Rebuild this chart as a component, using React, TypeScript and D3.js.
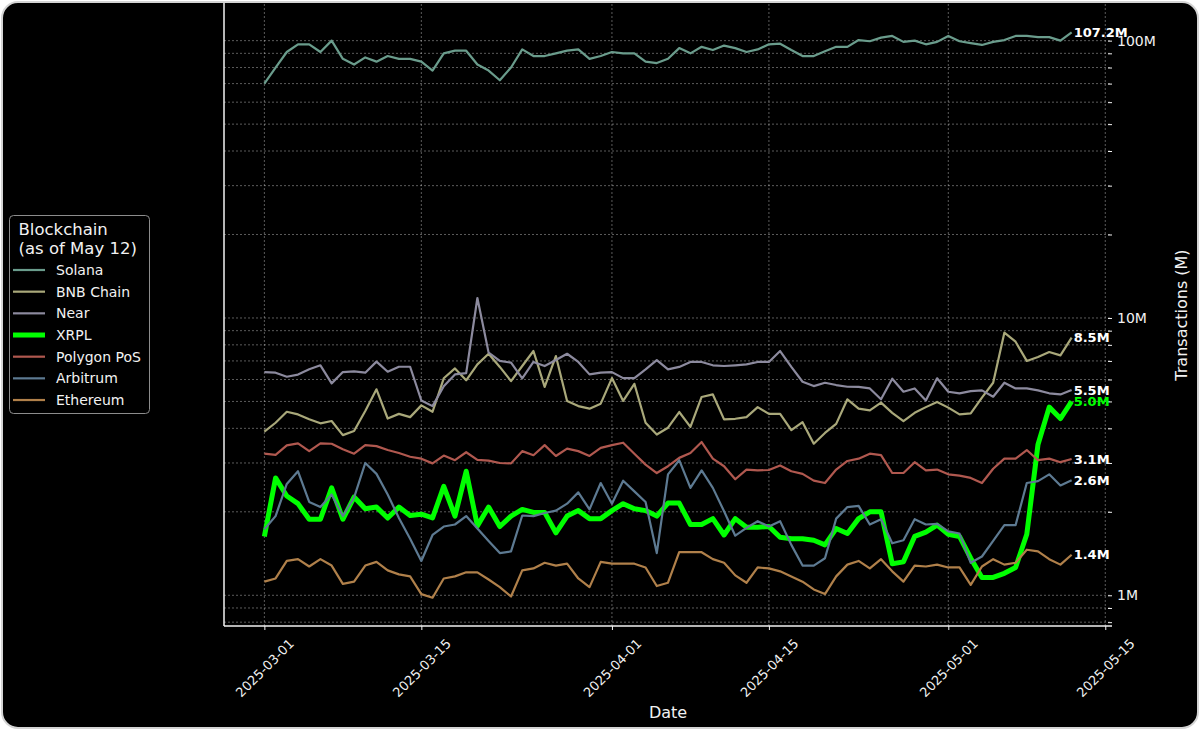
import React, { createRef } from 'react';
import {
  select,
  scaleUtc,
  scaleLog,
  axisBottom,
  axisRight,
  line,
  utcDay,
  utcParse,
  utcFormat,
  extent,
  ScaleTime,
  ScaleLogarithmic,
  Selection,
} from 'd3';

// daily transactions, millions, 2025-03-01 .. 2025-05-12
const START_DATE = '2025-03-01';

const SOLANA_TX = [
  70, 80, 91, 97, 97, 91, 100, 86, 82, 87, 84, 88, 86, 86, 84, 78, 90, 92, 92, 82,
  78, 72, 80, 93, 88, 88, 90, 92, 93, 86, 88, 91, 90, 90, 84, 83, 86, 94, 90, 95,
  92.5, 96, 94, 91, 93, 97, 97.5, 92.5, 88, 88, 91.5, 95, 95, 100.5, 99.5, 102.5, 104, 99, 100, 97,
  99, 104, 99.5, 98, 96.5, 99, 100.5, 104, 104, 103, 103, 100, 107.2,
];
const BNB_TX = [
  3.89, 4.19, 4.59, 4.49, 4.31, 4.17, 4.25, 3.78, 3.91, 4.62, 5.53, 4.34, 4.51, 4.39, 4.84, 4.59, 6.06, 6.58, 5.96, 6.8,
  7.43, 6.66, 5.92, 6.71, 7.6, 5.64, 7.29, 5.02, 4.81, 4.71, 4.91, 6.07, 5.02, 5.79, 4.19, 3.8, 4.02, 4.58, 4.05, 5.19,
  5.3, 4.31, 4.33, 4.39, 4.77, 4.51, 4.51, 3.94, 4.21, 3.52, 3.85, 4.15, 5.09, 4.71, 4.64, 4.95, 4.55, 4.25, 4.55, 4.77,
  4.98, 4.75, 4.49, 4.53, 5.16, 5.84, 8.85, 8.21, 7.0, 7.23, 7.54, 7.33, 8.5,
];
const NEAR_TX = [
  6.38, 6.35, 6.14, 6.25, 6.53, 6.75, 5.81, 6.38, 6.42, 6.35, 6.96, 6.4, 6.67, 6.67, 5.04, 4.81, 5.67, 6.26, 6.33, 11.8,
  7.5, 7.0, 6.9, 6.06, 6.94, 6.71, 7.05, 7.43, 6.94, 6.26, 6.35, 6.38, 6.07, 6.07, 6.53, 7.05, 6.53, 6.66, 6.94, 6.94,
  6.75, 6.71, 6.75, 6.8, 6.94, 6.94, 7.6, 6.66, 5.89, 5.68, 5.84, 5.73, 5.65, 5.64, 5.57, 5.09, 6.04, 5.42, 5.57, 5.04,
  6.06, 5.42, 5.35, 5.45, 5.48, 5.2, 5.84, 5.57, 5.57, 5.48, 5.35, 5.3, 5.5,
];
const XRPL_TX = [
  1.63, 2.65, 2.28, 2.14, 1.88, 1.88, 2.44, 1.88, 2.26, 2.05, 2.08, 1.9, 2.08, 1.94, 1.96, 1.9, 2.47, 1.93, 2.8, 1.78,
  2.08, 1.77, 1.93, 2.04, 1.99, 1.99, 1.68, 1.93, 2.02, 1.89, 1.89, 2.02, 2.14, 2.05, 2.02, 1.93, 2.15, 2.15, 1.8, 1.8,
  1.89, 1.65, 1.89, 1.76, 1.76, 1.77, 1.62, 1.6, 1.6, 1.58, 1.52, 1.74, 1.67, 1.89, 2.0, 2.0, 1.3, 1.32, 1.63, 1.69,
  1.79, 1.66, 1.63, 1.36, 1.16, 1.16, 1.2, 1.26, 1.66, 3.5, 4.77, 4.34, 5.0,
];
const POLYGON_TX = [
  3.24, 3.21, 3.47, 3.53, 3.31, 3.53, 3.52, 3.36, 3.24, 3.48, 3.45, 3.34, 3.26, 3.16, 3.11, 2.99, 3.19, 3.07, 3.28, 3.08,
  3.06, 3.0, 2.99, 3.31, 3.2, 3.48, 3.18, 3.38, 3.31, 3.18, 3.4, 3.48, 3.55, 3.24, 2.96, 2.76, 2.92, 3.13, 3.26, 3.57,
  3.11, 2.92, 2.62, 2.84, 2.82, 2.83, 2.94, 2.8, 2.74, 2.59, 2.54, 2.84, 3.05, 3.11, 3.24, 3.2, 2.76, 2.76, 3.02, 2.82,
  2.84, 2.73, 2.7, 2.65, 2.54, 2.86, 3.11, 3.11, 3.34, 3.07, 3.11, 3.02, 3.1,
];
const ARBITRUM_TX = [
  1.73, 1.93, 2.52, 2.8, 2.17, 2.08, 2.31, 1.93, 2.25, 3.0, 2.74, 2.31, 1.9, 1.6, 1.33, 1.65, 1.77, 1.8, 1.93, 1.74,
  1.57, 1.42, 1.44, 1.94, 1.93, 1.98, 2.02, 2.14, 2.35, 2.04, 2.54, 2.14, 2.59, 2.37, 2.17, 1.42, 2.73, 3.07, 2.44, 2.82,
  2.44, 2.01, 1.64, 1.75, 1.85, 1.77, 1.85, 1.52, 1.28, 1.28, 1.36, 1.89, 2.08, 2.1, 1.8, 1.88, 1.54, 1.58, 1.88, 1.8,
  1.81, 1.7, 1.67, 1.31, 1.38, 1.57, 1.79, 1.79, 2.54, 2.58, 2.73, 2.49, 2.6,
];
const ETHEREUM_TX = [
  1.12, 1.15, 1.33, 1.35, 1.27, 1.35, 1.28, 1.1, 1.12, 1.28, 1.32, 1.23, 1.19, 1.17, 1.01, 0.98, 1.15, 1.17, 1.21, 1.21,
  1.14, 1.07, 0.99, 1.23, 1.25, 1.31, 1.28, 1.3, 1.15, 1.07, 1.32, 1.3, 1.3, 1.3, 1.26, 1.08, 1.11, 1.43, 1.43, 1.43,
  1.35, 1.31, 1.18, 1.11, 1.26, 1.25, 1.22, 1.17, 1.12, 1.05, 1.01, 1.17, 1.29, 1.33, 1.25, 1.35, 1.22, 1.12, 1.28, 1.27,
  1.29, 1.26, 1.26, 1.09, 1.27, 1.35, 1.29, 1.31, 1.46, 1.44, 1.35, 1.29, 1.4,
];

const SERIES_NAMES = ['Solana', 'BNB Chain', 'Near', 'XRPL', 'Polygon PoS', 'Arbitrum', 'Ethereum'];
const SERIES_VALUES = [SOLANA_TX, BNB_TX, NEAR_TX, XRPL_TX, POLYGON_TX, ARBITRUM_TX, ETHEREUM_TX];
const SERIES_COLORS = ['#6a9c8c', '#a9a87a', '#8c8a9e', '#00ff00', '#b0584f', '#5d7a92', '#b0804a'];
const HIGHLIGHT = 'XRPL';

const X_TICK_LABELS = ['2025-03-01', '2025-03-15', '2025-04-01', '2025-04-15', '2025-05-01', '2025-05-15'];
const Y_MAJOR_TICKS = [1, 10, 100];
const Y_MINOR_TICKS = [0.8, 0.9, 2, 3, 4, 5, 6, 7, 8, 9, 20, 30, 40, 50, 60, 70, 80, 90];

const LEGEND_TITLE = ['Blockchain', '(as of May 12)'];
const X_LABEL = 'Date';
const Y_LABEL = 'Transactions (M)';

const svgRef = createRef<SVGSVGElement>();
const WIDTH = 1200;
const HEIGHT = 730;
const MARGIN = { TOP: 4, BOTTOM: 104, LEFT: 224, RIGHT: 88 };
const FONT = "'DejaVu Sans', sans-serif";
const TEXT_COLOR = '#f2f2f2';
const DAY_MS = 86400000;

export default class App extends React.Component {
  private svg: Selection<SVGSVGElement | null, unknown, null, undefined>;

  private xScale: ScaleTime<number, number>;

  private yScale: ScaleLogarithmic<number, number>;

  private dates: Array<Date>;

  private plotRight: number = WIDTH - MARGIN.RIGHT;

  private plotBottom: number = HEIGHT - MARGIN.BOTTOM;

  componentDidMount(): void {
    this.svg = select(svgRef.current);
    this.svg.selectAll('*').remove();

    this.setScales();
    this.drawFrame();
    this.drawGrid();
    this.drawAxes();
    this.drawLines();
    this.drawLegend();
  }

  setScales(): void {
    const parseDate = utcParse('%Y-%m-%d');
    const start = parseDate(START_DATE) as Date;
    this.dates = SOLANA_TX.map((_, i) => utcDay.offset(start, i));

    // same 5% padding as matplotlib's default margins
    const [first, last] = extent(this.dates) as [Date, Date];
    const pad = (last.getTime() - first.getTime()) * 0.05;
    this.xScale = scaleUtc()
      .domain([new Date(first.getTime() - pad), new Date(last.getTime() + pad)])
      .range([MARGIN.LEFT, this.plotRight]);

    const all = SERIES_VALUES.flat();
    const lo = Math.log10(Math.min(...all));
    const hi = Math.log10(Math.max(...all));
    const logPad = (hi - lo) * 0.05;
    this.yScale = scaleLog()
      .domain([10 ** (lo - logPad), 10 ** (hi + logPad)])
      .range([this.plotBottom, MARGIN.TOP]);
  }

  drawFrame(): void {
    this.svg.append('rect').attr('width', WIDTH).attr('height', HEIGHT).attr('fill', '#ffffff');
    this.svg
      .append('rect')
      .attr('x', 2)
      .attr('y', 2)
      .attr('width', WIDTH - 4)
      .attr('height', HEIGHT - 4)
      .attr('rx', 16)
      .attr('fill', '#000000')
      .attr('stroke', '#d4d4d4')
      .attr('stroke-width', 2);
  }

  drawGrid(): void {
    const grid = this.svg.append('g').attr('class', 'grid');
    const gridStyle = (s: Selection<SVGLineElement, any, SVGGElement, unknown>) =>
      s
        .attr('stroke', '#ffffff')
        .attr('stroke-opacity', 0.45)
        .attr('stroke-width', 0.8)
        .attr('stroke-dasharray', '2,2');

    grid
      .selectAll('line.y-grid')
      .data([...Y_MINOR_TICKS, ...Y_MAJOR_TICKS])
      .join('line')
      .attr('class', 'y-grid')
      .attr('x1', MARGIN.LEFT)
      .attr('x2', this.plotRight)
      .attr('y1', (d) => this.yScale(d))
      .attr('y2', (d) => this.yScale(d))
      .call(gridStyle);

    const parseDate = utcParse('%Y-%m-%d');
    grid
      .selectAll('line.x-grid')
      .data(X_TICK_LABELS.map((t) => parseDate(t) as Date))
      .join('line')
      .attr('class', 'x-grid')
      .attr('x1', (d) => this.xScale(d))
      .attr('x2', (d) => this.xScale(d))
      .attr('y1', MARGIN.TOP)
      .attr('y2', this.plotBottom)
      .call(gridStyle);
  }

  drawAxes(): void {
    const parseDate = utcParse('%Y-%m-%d');
    const xAxis = axisBottom(this.xScale)
      .tickValues(X_TICK_LABELS.map((t) => parseDate(t) as Date))
      .tickFormat((d) => utcFormat('%Y-%m-%d')(d as Date))
      .tickSize(4)
      .tickSizeOuter(0);
    const xAxisG = this.svg
      .append('g')
      .attr('class', 'x-axis')
      .attr('transform', `translate(0, ${this.plotBottom})`)
      .call(xAxis);
    xAxisG.select('.domain').remove();
    xAxisG.selectAll('line').attr('stroke', TEXT_COLOR);
    xAxisG
      .selectAll('text')
      .attr('x', 0)
      .attr('y', 0)
      .attr('dy', '0.35em')
      .attr('text-anchor', 'middle')
      .attr('transform', 'translate(0, 42) rotate(-45)')
      .attr('fill', TEXT_COLOR)
      .style('font-family', FONT)
      .style('font-size', '13px');

    // log axis on the right: only the decades get a label
    const yAxis = axisRight(this.yScale)
      .tickValues([...Y_MINOR_TICKS, ...Y_MAJOR_TICKS])
      .tickFormat((d) => (Y_MAJOR_TICKS.includes(d as number) ? `${d}M` : ''))
      .tickSize(4)
      .tickPadding(5)
      .tickSizeOuter(0);
    const yAxisG = this.svg
      .append('g')
      .attr('class', 'y-axis')
      .attr('transform', `translate(${this.plotRight - 4}, 0)`)
      .call(yAxis);
    yAxisG.select('.domain').remove();
    yAxisG.selectAll('line').attr('stroke', TEXT_COLOR);
    yAxisG
      .selectAll('text')
      .attr('fill', TEXT_COLOR)
      .style('font-family', FONT)
      .style('font-size', '14px');

    // spines
    this.svg
      .append('line')
      .attr('x1', MARGIN.LEFT)
      .attr('x2', MARGIN.LEFT)
      .attr('y1', MARGIN.TOP - 1)
      .attr('y2', this.plotBottom)
      .attr('stroke', TEXT_COLOR)
      .attr('stroke-width', 1.5);
    this.svg
      .append('line')
      .attr('x1', MARGIN.LEFT)
      .attr('x2', this.plotRight)
      .attr('y1', this.plotBottom)
      .attr('y2', this.plotBottom)
      .attr('stroke', TEXT_COLOR)
      .attr('stroke-width', 1.5);

    this.svg
      .append('text')
      .attr('x', (MARGIN.LEFT + this.plotRight) / 2)
      .attr('y', 718)
      .attr('text-anchor', 'middle')
      .attr('fill', TEXT_COLOR)
      .style('font-family', FONT)
      .style('font-size', '16px')
      .text(X_LABEL);

    this.svg
      .append('text')
      .attr('transform', `translate(1187, ${(MARGIN.TOP + this.plotBottom) / 2}) rotate(-90)`)
      .attr('text-anchor', 'middle')
      .attr('fill', TEXT_COLOR)
      .style('font-family', FONT)
      .style('font-size', '16px')
      .text(Y_LABEL);
  }

  drawLines(): void {
    const lineGen = line<number>()
      .x((_, i) => this.xScale(this.dates[i]))
      .y((d) => this.yScale(d));

    const linesG = this.svg.append('g').attr('class', 'lines');
    SERIES_VALUES.forEach((values, k) => {
      linesG
        .append('path')
        .attr('d', lineGen(values) as string)
        .attr('fill', 'none')
        .attr('stroke', SERIES_COLORS[k])
        .attr('stroke-width', SERIES_NAMES[k] === HIGHLIGHT ? 5 : 2.2)
        .attr('stroke-linejoin', 'round');
    });

    // last value written next to each line end
    const labelsG = this.svg.append('g').attr('class', 'end-labels');
    SERIES_VALUES.forEach((values, k) => {
      const lastIdx = values.length - 1;
      labelsG
        .append('text')
        .attr('x', this.xScale(this.dates[lastIdx]) + 2)
        .attr('y', this.yScale(values[lastIdx]))
        .attr('dy', '0.36em')
        .attr('fill', SERIES_NAMES[k] === HIGHLIGHT ? SERIES_COLORS[k] : '#ffffff')
        .style('font-family', FONT)
        .style('font-size', '13px')
        .style('font-weight', 'bold')
        .text(`${values[lastIdx].toFixed(1)}M`);
    });
  }

  drawLegend(): void {
    const legend = this.svg.append('g').attr('class', 'legend').attr('transform', 'translate(9.5, 215.5)');
    legend
      .append('rect')
      .attr('width', 140)
      .attr('height', 198)
      .attr('rx', 4)
      .attr('fill', '#000000')
      .attr('stroke', '#8c8c8c')
      .attr('stroke-width', 1);

    LEGEND_TITLE.forEach((t, i) => {
      legend
        .append('text')
        .attr('x', 9)
        .attr('y', 19 + i * 19)
        .attr('fill', TEXT_COLOR)
        .style('font-family', FONT)
        .style('font-size', '16.5px')
        .text(t);
    });

    SERIES_NAMES.forEach((name, i) => {
      const cy = 54.5 + i * 21.67;
      legend
        .append('line')
        .attr('x1', 3.5)
        .attr('x2', 35.5)
        .attr('y1', cy)
        .attr('y2', cy)
        .attr('stroke', SERIES_COLORS[i])
        .attr('stroke-width', name === HIGHLIGHT ? 5 : 2.2);
      legend
        .append('text')
        .attr('x', 46.5)
        .attr('y', cy)
        .attr('dy', '0.36em')
        .attr('fill', TEXT_COLOR)
        .style('font-family', FONT)
        .style('font-size', '14px')
        .text(name);
    });
  }

  render(): JSX.Element {
    return (
      <div style={{ position: 'absolute', left: 0, top: 0, width: WIDTH, height: HEIGHT }}>
        <svg id="chart-svg" ref={svgRef} width={WIDTH} height={HEIGHT} style={{ display: 'block' }} />
      </div>
    );
  }
}
